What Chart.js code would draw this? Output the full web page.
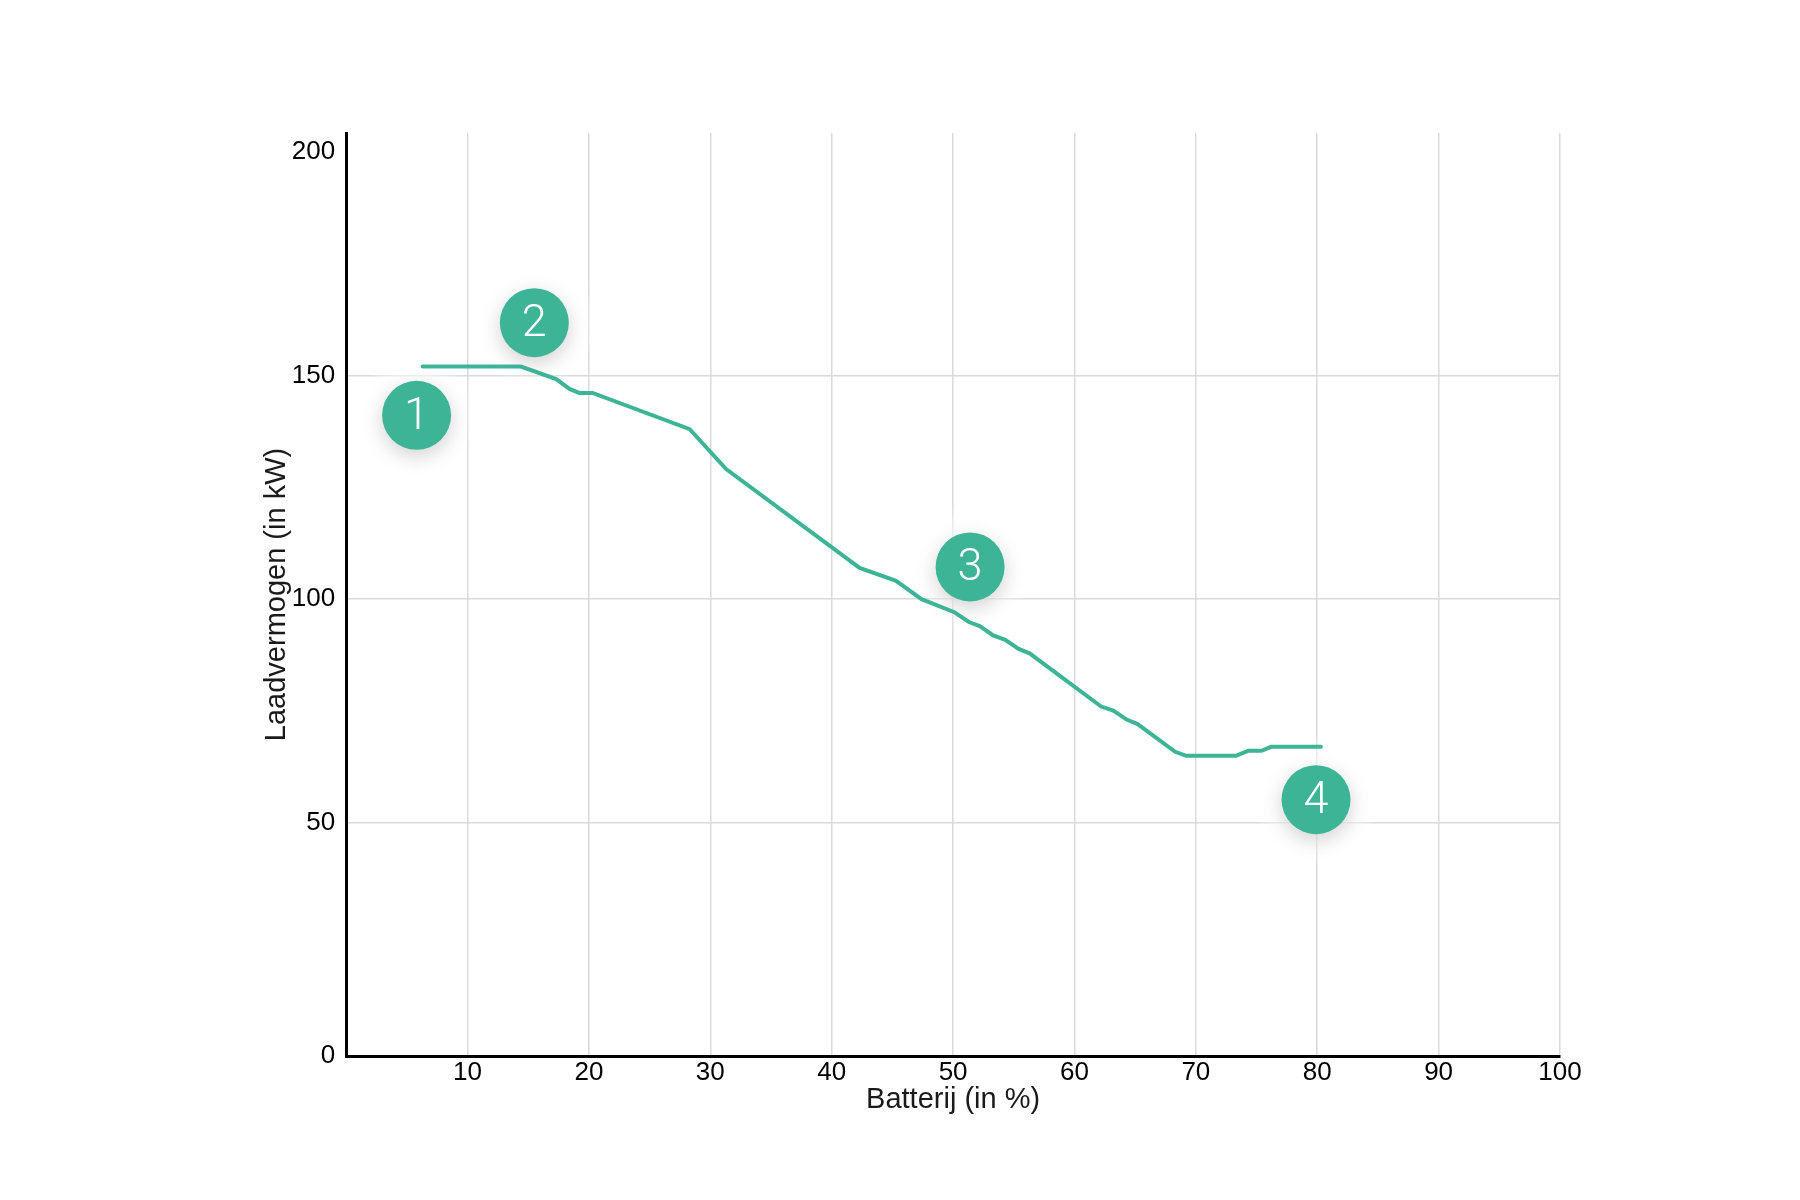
<!DOCTYPE html>
<html>
<head>
<meta charset="utf-8">
<script src="https://cdn.jsdelivr.net/npm/chart.js@4/dist/chart.umd.min.js"></script>
<style>
  body { margin: 0; background: #fff; }
  #wrap { width: 1800px; height: 1200px; }
</style>
</head>
<body>
<div id="wrap"><canvas id="chargeChart"></canvas></div>
<script>
// charging curve
const batteryPct = [6.3, 14.4, 17.3, 18.4, 19.2, 20.3, 28.3, 31.3, 42.3, 45.3, 47.4, 50.1, 51.3, 52.2, 53.3, 54.3, 55.4, 56.3, 62.2, 63.2, 64.3, 65.2, 68.3, 69.2, 73.3, 74.3, 75.4, 76.2, 80.3];
const powerKw = [152, 152, 149.2, 147, 146.1, 146.1, 138, 129.1, 107, 104.1, 100, 97.1, 94.9, 94, 91.9, 90.9, 88.9, 87.9, 76, 75.1, 73.1, 72.1, 65.9, 65, 65, 66.1, 66.1, 67, 67];

// numbered markers
const markerLabels = ["1", "2", "3", "4"];
const markerX = [5.8, 15.5, 51.4, 79.9];
const markerY = [141.1, 161.8, 107.2, 55.2];

const xTicks = [0, 10, 20, 30, 40, 50, 60, 70, 80, 90, 100];
const yTicks = [0, 50, 100, 150, 200];
const yMin = -2.1;
const yMax = 204.2;

const green = "#3eb497";
const gridGrey = "#dadada";
const fontFam = "'Liberation Sans', Arial, sans-serif";

const curvePoints = batteryPct.map((x, i) => ({ x: x, y: powerKw[i] }));
const markerPoints = markerX.map((x, i) => ({ x: x, y: markerY[i] }));

//soft glow + shadow behind the round markers, and the digits on top
const markerPlugin = {
  id: "markerPlugin",
  beforeDatasetDraw(chart, args) {
    if (args.index !== 1) return;
    const ctx = chart.ctx;
    args.meta.data.forEach((pt) => {
      const g = ctx.createRadialGradient(pt.x, pt.y, 30, pt.x, pt.y, 64);
      g.addColorStop(0, "rgba(255,255,255,0.85)");
      g.addColorStop(1, "rgba(255,255,255,0)");
      ctx.save();
      ctx.fillStyle = g;
      ctx.beginPath();
      ctx.arc(pt.x, pt.y, 64, 0, Math.PI * 2);
      ctx.fill();
      ctx.restore();
    });
    ctx.save();
    ctx.shadowColor = "rgba(0,0,0,0.18)";
    ctx.shadowBlur = 20;
    ctx.shadowOffsetY = 6;
  },
  afterDatasetDraw(chart, args) {
    if (args.index !== 1) return;
    const ctx = chart.ctx;
    ctx.restore();
    ctx.save();
    ctx.fillStyle = "#fff";
    ctx.font = "300 45px Roboto, 'Noto Sans', sans-serif";
    ctx.textAlign = "center";
    ctx.textBaseline = "middle";
    args.meta.data.forEach((pt, i) => {
      ctx.fillText(markerLabels[i], pt.x, pt.y + 2);
    });
    ctx.restore();
  },
};

const config = {
  type: "scatter",
  data: {
    datasets: [
      {
        type: "line",
        data: curvePoints,
        borderColor: green,
        borderWidth: 4,
        borderCapStyle: "round",
        pointRadius: 0,
        tension: 0,
        fill: false,
      },
      {
        data: markerPoints,
        backgroundColor: green,
        borderWidth: 0,
        pointRadius: 34.5,
        pointHoverRadius: 34.5,
      },
    ],
  },
  options: {
    responsive: true,
    maintainAspectRatio: false,
    animation: false,
    layout: {
      padding: { left: 260, right: 240, top: 133, bottom: 83 },
    },
    plugins: {
      legend: { display: false },
      tooltip: { enabled: false },
    },
    scales: {
      x: {
        type: "linear",
        min: 0,
        max: 100,
        afterBuildTicks: (scale) => {
          scale.ticks = xTicks.map((v) => ({ value: v }));
        },
        ticks: {
          padding: 1,
          color: "#000",
          font: { family: fontFam, size: 26 },
          callback: (v) => (v === 0 ? "" : v),
          maxRotation: 0,
        },
        grid: { color: gridGrey, lineWidth: 1.5, drawTicks: false },
        border: { color: "#000", width: 3 },
        title: {
          display: true,
          text: "Batterij (in %)",
          color: "#1a1a1a",
          font: { family: fontFam, size: 29 },
          padding: { top: -7, bottom: 0 },
        },
      },
      y: {
        type: "linear",
        min: yMin,
        max: yMax,
        afterBuildTicks: (scale) => {
          // the 0 label sits on the axis line in the original
          scale.ticks = yTicks.map((v) => ({ value: v === 0 ? yMin : v }));
        },
        ticks: {
          padding: 11,
          color: "#000",
          font: { family: fontFam, size: 26 },
          callback: (v) => (v < 0 ? "0" : v),
        },
        grid: {
          color: (ctx) => (ctx.tick && ctx.tick.value === 200 ? "rgba(0,0,0,0)" : gridGrey),
          lineWidth: 1.5,
          drawTicks: false,
        },
        border: { color: "#000", width: 3 },
        title: {
          display: true,
          text: "Laadvermogen (in kW)",
          color: "#1a1a1a",
          font: { family: fontFam, size: 29 },
          padding: { top: 0, bottom: -14 },
        },
      },
    },
  },
  plugins: [markerPlugin],
};

window.addEventListener("DOMContentLoaded", () => {
  new Chart(document.getElementById("chargeChart"), config);
});
</script>
</body>
</html>
